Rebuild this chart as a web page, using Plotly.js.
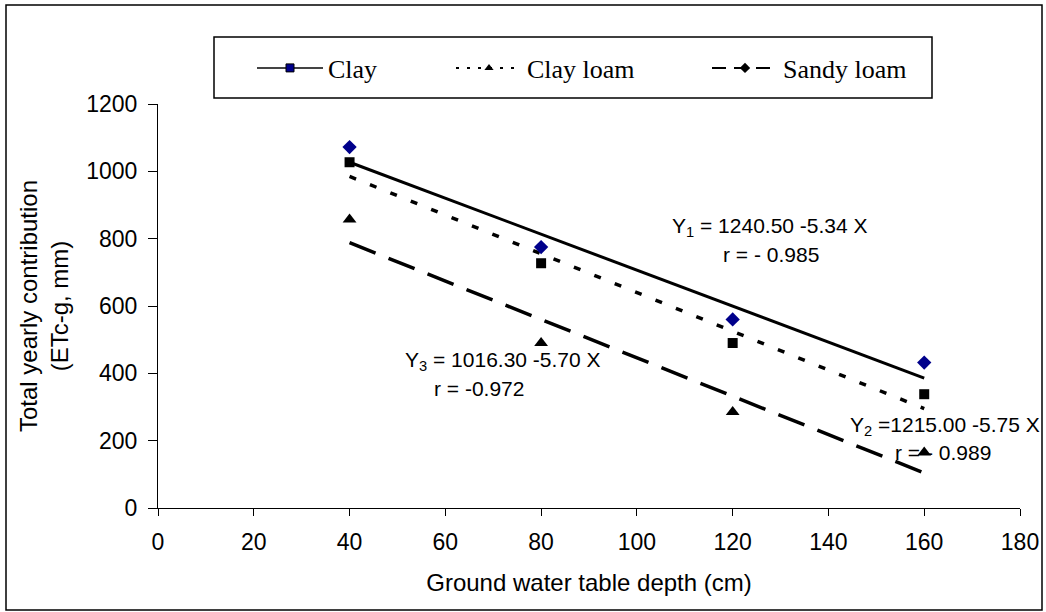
<!DOCTYPE html>
<html>
<head>
<meta charset="utf-8">
<script src="https://cdn.plot.ly/plotly-3.0.1.min.js"></script>
<style>html,body{margin:0;padding:0;background:#fff;}#chart{width:1046px;height:612px;}</style>
</head>
<body>
<div id="chart"></div>
<script>
// Measured points
const depth = [40, 80, 120, 160];
const clay = [1027, 727, 490, 338];        // squares
const clayLoam = [857, 490, 285, 165];     // triangles
const sandyLoam = [1072, 775, 560, 432];   // diamonds
// Trend lines (values at depth 40 and 160)
const trendX = [40, 160];
const trend1 = [1027, 386];  // Y1 = 1240.50 - 5.34 X
const trend2 = [985, 295];   // Y2 = 1215.00 - 5.75 X
const trend3 = [788, 104];   // Y3 = 1016.30 - 5.70 X
const seriesNames = ["Clay", "Clay loam", "Sandy loam"];
const xTicks = [0, 20, 40, 60, 80, 100, 120, 140, 160, 180];
const yTicks = [0, 200, 400, 600, 800, 1000, 1200];

const traces = [
  {x: trendX, y: trend1, mode: 'lines', line: {color: '#000', width: 3}, showlegend: false, hoverinfo: 'skip'},
  {x: trendX, y: trend2, mode: 'lines', line: {color: '#000', width: 3.5, dash: '7px,15px'}, showlegend: false, hoverinfo: 'skip'},
  {x: trendX, y: trend3, mode: 'lines', line: {color: '#000', width: 3.5, dash: '28px,14px'}, showlegend: false, hoverinfo: 'skip'},
  {x: depth, y: clay, mode: 'markers', marker: {symbol: 'square', size: 10, color: '#000'}, showlegend: false},
  {x: depth, y: clayLoam, mode: 'markers', marker: {symbol: 'triangle-up', size: 12, color: '#000'}, showlegend: false},
  {x: depth, y: sandyLoam, mode: 'markers', marker: {symbol: 'diamond', size: 11, color: '#00008B'}, showlegend: false},
  // legend entries
  {x: [null], y: [null], name: seriesNames[0], mode: 'lines+markers', legend: 'legend',
   line: {color: '#444', width: 2}, marker: {symbol: 'square', size: 8, color: '#00008B', line: {color: '#000', width: 1}}},
  {x: [null], y: [null], name: seriesNames[1], mode: 'lines+markers', legend: 'legend2',
   line: {color: '#000', width: 2, dash: '3px,8px'}, marker: {symbol: 'triangle-up', size: 8, color: '#000'}},
  {x: [null], y: [null], name: seriesNames[2], mode: 'lines+markers', legend: 'legend3',
   line: {color: '#000', width: 2, dash: '14px,8px'}, marker: {symbol: 'diamond', size: 8, color: '#000'}}
];

const legFont = {family: 'Liberation Serif, Times New Roman, serif', size: 26, color: '#000'};
const legCommon = {orientation: 'h', yanchor: 'middle', y: (508 - 68) / 404, xanchor: 'left', font: legFont,
  itemwidth: 66, bgcolor: 'rgba(0,0,0,0)', borderwidth: 0};

const annFont = {family: 'Liberation Sans, Arial, sans-serif', size: 21, color: '#000'};
const axFont = {size: 23, family: 'Liberation Sans, Arial, sans-serif', color: '#000'};
const titleFont = {size: 24, family: 'Liberation Sans, Arial, sans-serif', color: '#000'};
const layout = {
  width: 1046, height: 612,
  margin: {l: 158, r: 26, t: 104, b: 104},
  paper_bgcolor: '#fff', plot_bgcolor: '#fff',
  font: {family: 'Liberation Sans, Arial, sans-serif', color: '#000'},
  xaxis: {range: [0, 180], tickvals: xTicks, ticks: 'outside', ticklen: 7, tickcolor: '#000',
    showline: true, linecolor: '#000', linewidth: 1, showgrid: false, zeroline: false,
    tickfont: axFont, ticklabelstandoff: 6,
    title: {text: 'Ground water table depth (cm)', font: titleFont, standoff: 20}},
  yaxis: {range: [0, 1200], tickvals: yTicks, ticks: 'outside', ticklen: 9, tickcolor: '#000',
    showline: true, linecolor: '#000', linewidth: 1, showgrid: false, zeroline: false,
    tickfont: axFont, ticklabelstandoff: 6,
    title: {text: 'Total yearly contribution<br>(ETc-g, mm)', font: titleFont, standoff: 10}},
  legend: Object.assign({}, legCommon, {x: (252 - 158) / 862}),
  legend2: Object.assign({}, legCommon, {x: (451 - 158) / 862}),
  legend3: Object.assign({}, legCommon, {x: (707 - 158) / 862}),
  shapes: [
    {type: 'rect', xref: 'paper', yref: 'paper', x0: (214 - 158) / 862, x1: (932 - 158) / 862,
     y0: (508 - 98) / 404, y1: (508 - 37) / 404, line: {color: '#000', width: 1.5}, fillcolor: 'rgba(0,0,0,0)'},
    {type: 'rect', xref: 'paper', yref: 'paper', x0: (6 - 158) / 862, x1: (1042 - 158) / 862,
     y0: (508 - 610) / 404, y1: (508 - 5) / 404, line: {color: '#000', width: 1.5}, fillcolor: 'rgba(0,0,0,0)'}
  ],
  annotations: [
    {x: 127.8, y: 835, xref: 'x', yref: 'y', text: 'Y<sub>1</sub> = 1240.50 -5.34 X', showarrow: false, font: annFont},
    {x: 128, y: 754, xref: 'x', yref: 'y', text: 'r = - 0.985', showarrow: false, font: annFont},
    {x: 72, y: 437, xref: 'x', yref: 'y', text: 'Y<sub>3</sub> = 1016.30 -5.70 X', showarrow: false, font: annFont},
    {x: 67, y: 356, xref: 'x', yref: 'y', text: 'r = -0.972', showarrow: false, font: annFont},
    {x: 164.3, y: 244, xref: 'x', yref: 'y', text: 'Y<sub>2</sub> =1215.00 -5.75 X', showarrow: false, font: annFont},
    {x: 163.9, y: 166, xref: 'x', yref: 'y', text: 'r = - 0.989', showarrow: false, font: annFont}
  ]
};

Plotly.newPlot('chart', traces, layout, {displayModeBar: false, staticPlot: true});
</script>
</body>
</html>
